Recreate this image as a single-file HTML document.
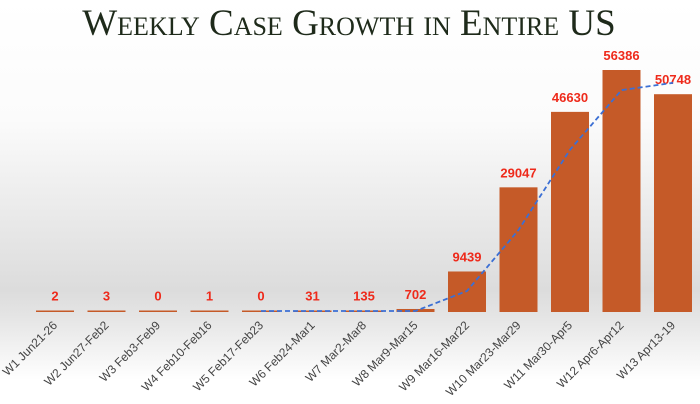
<!DOCTYPE html>
<html><head><meta charset="utf-8"><style>
body{margin:0;width:700px;height:404px;overflow:hidden;background:#fff}
#bg{position:absolute;left:0;top:0;width:700px;height:404px;background:linear-gradient(#fff 0px,#fbfbfb 120px,#dcdcdc 290px,#e4e4e4 315px,#fff 380px)}
svg{position:absolute;left:0;top:0}
</style></head><body>
<div id="bg"></div>
<svg id="chart" width="700" height="404">
<text x="349" y="35" text-anchor="middle" font-family="Liberation Serif, serif" font-size="37" fill="#1e2a1a" style="font-variant:small-caps">Weekly Case Growth in Entire US</text>
</svg>
<script>
const categories=["W1 Jun21-26","W2 Jun27-Feb2","W3 Feb3-Feb9","W4 Feb10-Feb16","W5 Feb17-Feb23","W6 Feb24-Mar1","W7 Mar2-Mar8","W8 Mar9-Mar15","W9 Mar16-Mar22","W10 Mar23-Mar29","W11 Mar30-Apr5","W12 Apr6-Apr12","W13 Apr13-19"];
const cases=[2,3,0,1,0,31,135,702,9439,29047,46630,56386,50748];
const trendIdx=[4,5,6,7,8,9,10,11,12];
const trendVals=[0,20,50,200,4900,19100,37800,51700,53400];
const NS="http://www.w3.org/2000/svg";
const svg=document.getElementById('chart');
const base=312, scale=242/56386;
const x=i=>55+i*51.5;
const y=v=>base-v*scale;
function mk(t,a){const e=document.createElementNS(NS,t);for(const k in a)e.setAttribute(k,a[k]);svg.appendChild(e);return e;}
cases.forEach((v,i)=>{
  const h=Math.max(base-y(v),1.5);
  const r=mk('rect',{x:x(i)-19,y:base-h,width:38,height:h,fill:'#c55a28'});
  
  
  const t=mk('text',{x:x(i),y:base-h-10,'text-anchor':'middle','font-family':'Liberation Sans, sans-serif','font-size':13,'font-weight':'bold',fill:'#ee2a1b'});
  t.textContent=v;
  
  
  const l=mk('text',{transform:`translate(${x(i)+3},${base+14}) rotate(-45)`,'text-anchor':'end','font-family':'Liberation Sans, sans-serif','font-size':12,fill:'#444'});
  l.textContent=categories[i];
  
  
});
const pts=trendIdx.map((ix,k)=>x(ix)+','+Math.min(y(trendVals[k]),base-1)).join(' ');
const pl=mk('polyline',{points:pts,fill:'none',stroke:'#3b6fd4','stroke-width':1.8,'stroke-dasharray':'5,3'});


</script>
</body></html>
